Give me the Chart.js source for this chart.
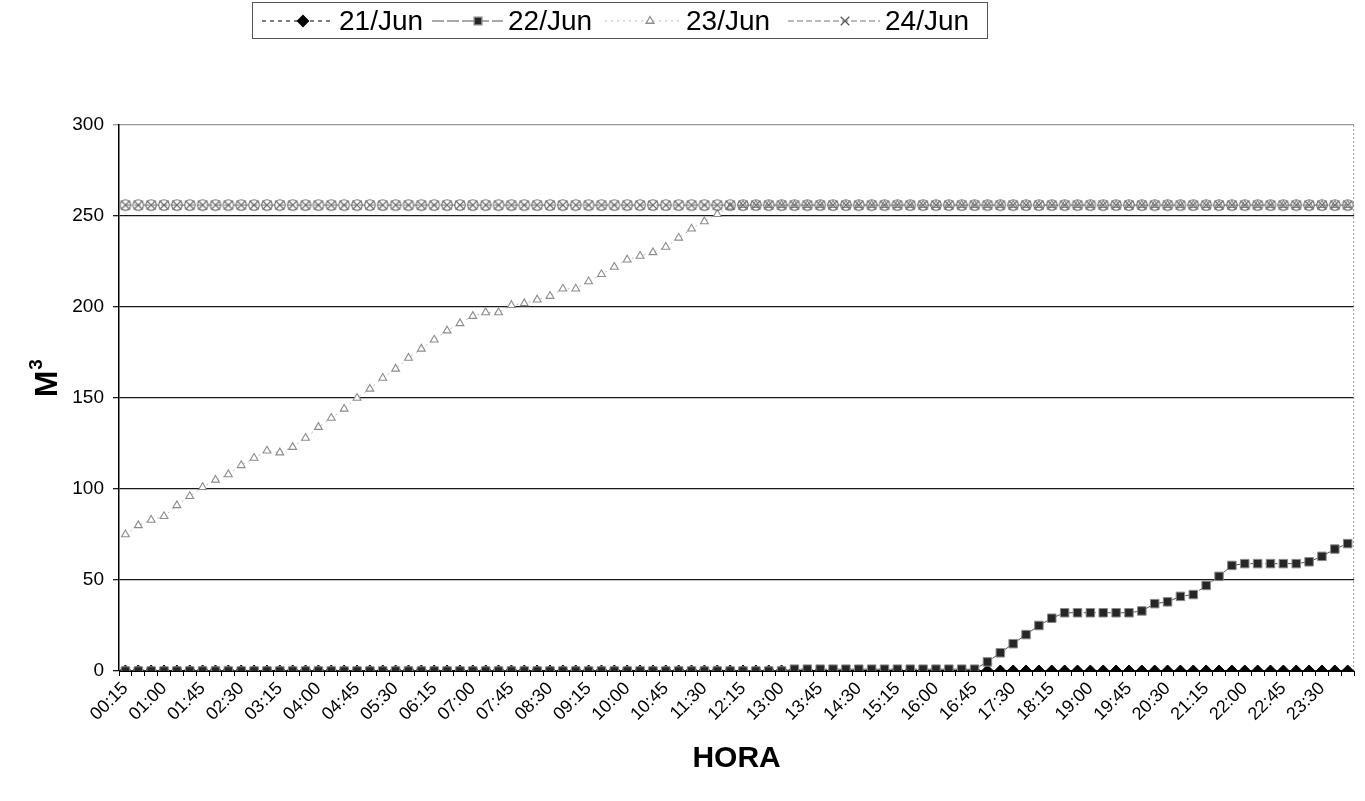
<!DOCTYPE html>
<html>
<head>
<meta charset="utf-8">
<script src="https://cdn.jsdelivr.net/npm/chart.js@4/dist/chart.umd.min.js"></script>
<style>
  html, body { margin: 0; padding: 0; background: #fff; }
  #wrap { width: 1365px; height: 801px; position: relative; }
</style>
</head>
<body>
<div id="wrap"><canvas id="c" width="1365" height="801"></canvas></div>
<script>
const horas = [
  "00:15","00:30","00:45","01:00","01:15","01:30","01:45","02:00","02:15","02:30","02:45","03:00",
  "03:15","03:30","03:45","04:00","04:15","04:30","04:45","05:00","05:15","05:30","05:45","06:00",
  "06:15","06:30","06:45","07:00","07:15","07:30","07:45","08:00","08:15","08:30","08:45","09:00",
  "09:15","09:30","09:45","10:00","10:15","10:30","10:45","11:00","11:15","11:30","11:45","12:00",
  "12:15","12:30","12:45","13:00","13:15","13:30","13:45","14:00","14:15","14:30","14:45","15:00",
  "15:15","15:30","15:45","16:00","16:15","16:30","16:45","17:00","17:15","17:30","17:45","18:00",
  "18:15","18:30","18:45","19:00","19:15","19:30","19:45","20:00","20:15","20:30","20:45","21:00",
  "21:15","21:30","21:45","22:00","22:15","22:30","22:45","23:00","23:15","23:30","23:45","24:00"
];

const jun21 = [
  0,0,0,0,0,0,0,0,0,0,0,0, 0,0,0,0,0,0,0,0,0,0,0,0,
  0,0,0,0,0,0,0,0,0,0,0,0, 0,0,0,0,0,0,0,0,0,0,0,0,
  0,0,0,0,0,0,0,0,0,0,0,0, 0,0,0,0,0,0,0,0,0,0,0,0,
  0,0,0,0,0,0,0,0,0,0,0,0, 0,0,0,0,0,0,0,0,0,0,0,0
];

const jun22 = [
  0,0,0,0,0,0,0,0,0,0,0,0, 0,0,0,0,0,0,0,0,0,0,0,0,
  0,0,0,0,0,0,0,0,0,0,0,0, 0,0,0,0,0,0,0,0,0,0,0,0,
  0,0,0,0,1,1,1,1,1,1,1,1, 1,1,1,1,1,1,1,5,10,15,20,25,
  29,32,32,32,32,32,32,33,37,38,41,42, 47,52,58,59,59,59,59,59,60,63,67,70
];

const jun23 = [
  75,80,83,85,91,96,101,105,108,113,117,121,
  120,123,128,134,139,144,150,155,161,166,172,177,
  182,187,191,195,197,197,201,202,204,206,210,210,
  214,218,222,226,228,230,233,238,243,247,251,255,
  256,256,256,256,256,256,256,256,256,256,256,256,
  256,256,256,256,256,256,256,256,256,256,256,256,
  256,256,256,256,256,256,256,256,256,256,256,256,
  256,256,256,256,256,256,256,256,256,256,256,256
];

const jun24 = [
  256,256,256,256,256,256,256,256,256,256,256,256,
  256,256,256,256,256,256,256,256,256,256,256,256,
  256,256,256,256,256,256,256,256,256,256,256,256,
  256,256,256,256,256,256,256,256,256,256,256,256,
  256,256,256,256,256,256,256,256,256,256,256,256,
  256,256,256,256,256,256,256,256,256,256,256,256,
  256,256,256,256,256,256,256,256,256,256,256,256,
  256,256,256,256,256,256,256,256,256,256,256,256
];

const yTicks = [0, 50, 100, 150, 200, 250, 300];
const FONT = "'Liberation Sans', Arial, sans-serif";

// marker for 24/Jun: an x inside a small ring
function ringCross() {
  const c = document.createElement('canvas');
  c.width = 14; c.height = 14;
  const g = c.getContext('2d');
  g.strokeStyle = '#6a6a6a';
  g.lineWidth = 1.1;
  g.beginPath(); g.arc(7, 7, 5.3, 0, Math.PI * 2); g.stroke();
  g.beginPath();
  g.moveTo(2.5, 2.5); g.lineTo(11.5, 11.5);
  g.moveTo(11.5, 2.5); g.lineTo(2.5, 11.5);
  g.stroke();
  return c;
}

const legendPlugin = {
  id: 'excelLegend',
  afterDraw(chart) {
    const ctx = chart.ctx;
    ctx.save();
    ctx.strokeStyle = '#555';
    ctx.lineWidth = 1;
    ctx.strokeRect(252.5, 2.5, 735, 36);
    const items = [
      { lx0: 262, lx1: 334, mx: 303, tx: 339, style: 'rectRot', r: 5.5 },
      { lx0: 432, lx1: 503, mx: 478, tx: 508, style: 'rect', r: 5.5 },
      { lx0: 605, lx1: 681, mx: 650, tx: 686, style: 'triangle', r: 4.5 },
      { lx0: 788, lx1: 880, mx: 845, tx: 885, style: 'crossRot', r: 6 }
    ];
    const y = 21;
    chart.data.datasets.forEach((ds, i) => {
      const it = items[i];
      ctx.save();
      ctx.strokeStyle = ds.borderColor;
      ctx.lineWidth = 1.2;
      ctx.setLineDash(ds.borderDash || []);
      ctx.beginPath();
      ctx.moveTo(it.lx0, y);
      ctx.lineTo(it.lx1, y);
      ctx.stroke();
      ctx.restore();
      ctx.save();
      ctx.fillStyle = ds.pointBackgroundColor;
      ctx.strokeStyle = i === 3 ? '#555' : ds.pointBorderColor;
      ctx.lineWidth = 1.3;
      Chart.helpers.drawPoint(ctx, {
        pointStyle: it.style, radius: it.r, rotation: 0, borderWidth: 1.3
      }, it.mx, y);
      ctx.restore();
      ctx.fillStyle = '#000';
      ctx.font = '28px ' + FONT;
      ctx.textBaseline = 'middle';
      ctx.textAlign = 'left';
      ctx.fillText(ds.label, it.tx, y + 1);
    });
    ctx.restore();
  }
};

const framePlugin = {
  id: 'frame',
  beforeDatasetsDraw(chart) {
    const { ctx, chartArea: a } = chart;
    ctx.save();
    ctx.strokeStyle = '#999';
    ctx.lineWidth = 1;
    ctx.setLineDash([2, 2]);
    ctx.beginPath();
    ctx.moveTo(a.right - 0.5, a.top);
    ctx.lineTo(a.right - 0.5, a.bottom);
    ctx.stroke();
    ctx.restore();
  },
  afterDraw(chart) {
    // y-axis title "M³" with a real superscript
    const ctx = chart.ctx;
    ctx.save();
    ctx.translate(46, 378);
    ctx.rotate(-Math.PI / 2);
    ctx.fillStyle = '#000';
    ctx.textBaseline = 'middle';
    ctx.textAlign = 'left';
    ctx.font = 'bold 32px ' + FONT;
    const w = ctx.measureText('M').width;
    const total = w + 12;
    ctx.fillText('M', -total / 2, 2);
    ctx.font = 'bold 19px ' + FONT;
    ctx.fillText('3', -total / 2 + w + 1, -9);
    ctx.restore();
  }
};

new Chart(document.getElementById('c'), {
  type: 'line',
  data: {
    labels: horas,
    datasets: [
      {
        label: '21/Jun', data: jun21, order: 4,
        borderColor: '#000', borderWidth: 1, borderDash: [4, 4],
        pointStyle: 'rectRot', pointRadius: 6,
        pointBackgroundColor: '#000', pointBorderColor: '#000', pointBorderWidth: 1
      },
      {
        label: '22/Jun', data: jun22, order: 3,
        borderColor: '#555', borderWidth: 1, borderDash: [12, 3],
        pointStyle: 'rect', pointRadius: 6,
        pointBackgroundColor: '#262626', pointBorderColor: '#8a8a8a', pointBorderWidth: 1
      },
      {
        label: '23/Jun', data: jun23, order: 2,
        borderColor: '#bbb', borderWidth: 1, borderDash: [2, 4],
        pointStyle: 'triangle', pointRadius: 4.5,
        pointBackgroundColor: '#fff', pointBorderColor: '#8c8c8c', pointBorderWidth: 1.1
      },
      {
        label: '24/Jun', data: jun24, order: 1,
        borderColor: '#777', borderWidth: 1, borderDash: [6, 3],
        pointStyle: ringCross(), pointRadius: 6,
        pointBackgroundColor: '#666', pointBorderColor: '#666', pointBorderWidth: 1.2
      }
    ]
  },
  options: {
    responsive: false,
    animation: false,
    devicePixelRatio: 1,
    layout: { padding: { top: 125, right: 7, left: 0, bottom: 0 } },
    plugins: { legend: { display: false }, tooltip: { enabled: false } },
    scales: {
      x: {
        offset: true,
        grid: { offset: true, drawOnChartArea: false, color: '#000', tickLength: 5 },
        border: { color: '#000', width: 1 },
        ticks: {
          autoSkip: false, maxRotation: 45, minRotation: 45, padding: 2,
          color: '#000', font: { family: FONT, size: 18 },
          callback: (v, i) => (i % 3 === 0 ? horas[i] : '')
        },
        title: {
          display: true, text: 'HORA', color: '#000',
          font: { family: FONT, size: 30, weight: 'bold' },
          padding: { top: 0, bottom: 24 }
        },
        afterFit: (s) => { s.height = 130; }
      },
      y: {
        min: 0, max: 300,
        afterBuildTicks: (s) => { s.ticks = yTicks.map(v => ({ value: v })); },
        grid: {
          color: (c) => (c.tick && c.tick.value === 300 ? '#999' : '#1a1a1a'),
          lineWidth: 1.3, tickLength: 6
        },
        border: { color: '#000', width: 1.5 },
        ticks: { color: '#000', font: { family: FONT, size: 19 }, padding: 9 },
        title: { display: false },
        afterFit: (s) => { s.width = 119; }
      }
    }
  },
  plugins: [legendPlugin, framePlugin]
});
</script>
</body>
</html>
